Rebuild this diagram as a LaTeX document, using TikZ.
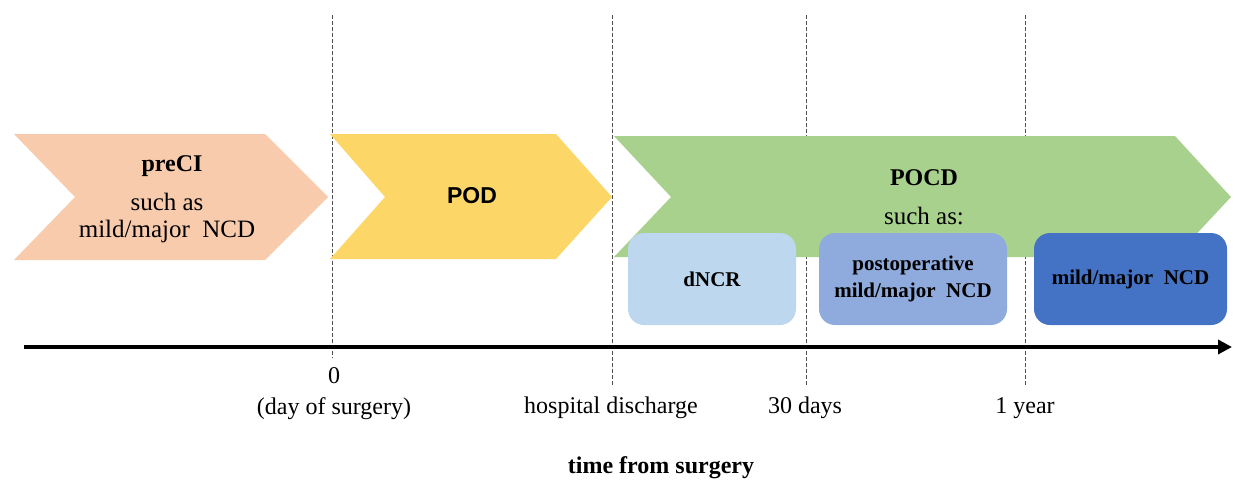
\documentclass[tikz,border=0pt]{standalone}
\usepackage{fontspec}
\setmainfont{Liberation Serif}
\newfontfamily\arialfont{Liberation Sans}
\usetikzlibrary{arrows.meta}

\definecolor{peach}{HTML}{F8CBAD}
\definecolor{gold}{HTML}{FCD666}
\definecolor{leaf}{HTML}{A9D18E}
\definecolor{paleblue}{HTML}{BDD7EE}
\definecolor{midblue}{HTML}{8FAADC}
\definecolor{deepblue}{HTML}{4472C4}
\definecolor{guidegray}{HTML}{505050}

\tikzset{
  guide/.style={draw=guidegray, line width=1pt, dash pattern=on 3.5pt off 2.5pt},
  bigtext/.style={font=\fontsize{25}{30}\selectfont, align=center, inner sep=0pt},
  ticklabel/.style={font=\fontsize{24}{28}\selectfont, align=center, inner sep=0pt},
  stagebox/.style={draw=none, rounded corners=16pt, minimum height=92pt,
                   align=center, inner sep=0pt,
                   font=\fontsize{21}{25}\selectfont\bfseries},
  axis/.style={line width=4pt, -{Triangle[length=14pt,width=14pt]}}
}

\begin{document}
\begin{tikzpicture}[x=1pt,y=-1pt]
\useasboundingbox (0,0) rectangle (1235,482);

% dashed time markers (drawn first so the shapes cover them)
\coordinate (g0t) at (332,15);   \coordinate (g0b) at (332,358);
\coordinate (g1t) at (612,15);   \coordinate (g1b) at (612,385);
\coordinate (g2t) at (806,15);   \coordinate (g2b) at (806,385);
\coordinate (g3t) at (1025,15);  \coordinate (g3b) at (1025,385);
\draw[guide] (g0t) -- (g0b);
\draw[guide] (g1t) -- (g1b);
\draw[guide] (g2t) -- (g2b);
\draw[guide] (g3t) -- (g3b);

% phase chevrons
\fill[peach] (14,134) -- (265,134) -- (328,197) -- (265,260) -- (14,260) -- (75,197) -- cycle;
\fill[gold]  (330,134) -- (556,134) -- (612,197) -- (556,259) -- (330,259) -- (385,197) -- cycle;
\fill[leaf]  (614,136) -- (1175,136) -- (1231,197) -- (1175,257) -- (614,257) -- (671,197) -- cycle;

% chevron labels
\node[bigtext, font=\fontsize{24}{28}\selectfont\bfseries] (preci) at (172,166) {preCI};
\node[bigtext] (precisub) at (167,218) {such as\\[-3pt]mild/major\ \ NCD};
\node[bigtext, font=\fontsize{23}{27}\arialfont\bfseries] (pod) at (472,196) {POD};
\node[bigtext, font=\fontsize{24}{28}\selectfont\bfseries] (pocd) at (924,178) {POCD};
\node[bigtext] (pocdsub) at (924,216) {such as:};

% disorder boxes
\node[stagebox, fill=paleblue, minimum width=168pt] (dncr) at (712,279) {dNCR};
\node[stagebox, fill=midblue,  minimum width=188pt] (postncd) at (913,279)
  {postoperative\\[2pt]mild/major\ \ NCD};
\node[stagebox, fill=deepblue, minimum width=193pt] (ncd) at (1130.5,279) {mild/major\ \ NCD};

% time axis
\coordinate (axstart) at (24,347);
\coordinate (axend) at (1232,347);
\draw[axis] (axstart) -- (axend);

% axis labels
\node[ticklabel] (t0) at (334,394) {0\\[3pt](day of surgery)};
\node[ticklabel] (t1) at (611,408) {hospital discharge};
\node[ticklabel] (t2) at (805,408) {30 days};
\node[ticklabel] (t3) at (1025,408) {1 year};
\node[ticklabel, font=\fontsize{24}{28}\selectfont\bfseries] (axtitle) at (661,468) {time from surgery};
\end{tikzpicture}
\end{document}
